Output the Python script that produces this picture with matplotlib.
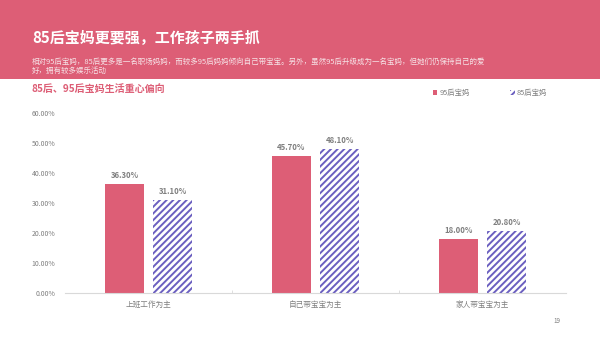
import matplotlib
matplotlib.use('Agg')
import matplotlib.pyplot as plt
from matplotlib.patches import Rectangle, Patch
import numpy as np

plt.rcParams['font.family'] = ['Noto Sans CJK SC', 'DejaVu Sans']
plt.rcParams['hatch.linewidth'] = 1.4

# data
categories = ['上班工作为主', '自己带宝宝为主', '家人带宝宝为主']
series_names = ['95后宝妈', '85后宝妈']
values_95 = [36.3, 45.7, 18.0]
values_85 = [31.1, 48.1, 20.8]
y_ticks = [0, 10, 20, 30, 40, 50, 60]

pink = '#dd5e76'
purple = '#6b5fc0'
gray = '#7f7f7f'
plt.rcParams['hatch.color'] = purple

fig = plt.figure(figsize=(6, 3.37), dpi=100)

# header band
fig.patches.append(Rectangle((0, 1 - 79 / 337), 1, 79 / 337, transform=fig.transFigure,
                             facecolor=pink, edgecolor='none', zorder=0))
fig.text(32 / 600, 1 - 38 / 337, '85后宝妈更要强，工作孩子两手抓', color='white',
         fontsize=10.8, fontweight='bold', va='center', ha='left')
fig.text(32 / 600, 1 - 62 / 337,
         '相对95后宝妈，85后更多是一名职场妈妈，而较多95后妈妈倾向自己带宝宝。另外，虽然95后升级成为一名宝妈，但她们仍保持自己的爱',
         color='#f6e3e7', fontsize=5.4, va='center', ha='left')
fig.text(32 / 600, 1 - 71 / 337, '好，拥有较多娱乐活动',
         color='#f6e3e7', fontsize=5.4, va='center', ha='left')
fig.text(32 / 600, 1 - 89 / 337, '85后、95后宝妈生活重心偏向', color=pink,
         fontsize=7.2, fontweight='bold', va='center', ha='left')
fig.text(557 / 600, 1 - 321 / 337, '19', color=gray, fontsize=4.5, va='center', ha='center')

ax = fig.add_axes([65 / 600, 44 / 337, 501 / 600, 180 / 337])
x = np.arange(len(categories))
w = 0.23
off = 0.144
b1 = ax.bar(x - off, values_95, w, color=pink, label=series_names[0], zorder=2)
b2 = ax.bar(x + off, values_85, w, facecolor='white', edgecolor=purple, hatch='/////',
            linewidth=0, label=series_names[1], zorder=2)

for bars, vals in ((b1, values_95), (b2, values_85)):
    for r, v in zip(bars, vals):
        ax.text(r.get_x() + r.get_width() / 2, v + 1.3, f'{v:.2f}%', ha='center', va='bottom',
                fontsize=5.6, color=gray, fontweight='bold')

ax.set_xlim(-0.5, len(categories) - 0.5)
ax.set_ylim(0, 60)
ax.set_yticks(y_ticks)
ax.set_yticklabels([f'{t:.2f}%' for t in y_ticks])
ax.set_xticks(x)
ax.set_xticklabels(categories)
ax.set_xticks([0.5, 1.5], minor=True)
ax.tick_params(axis='x', which='major', length=0, labelsize=5.5, labelcolor=gray, pad=6)
ax.tick_params(axis='x', which='minor', length=2.5, color='#d9d9d9', direction='in')
ax.tick_params(axis='y', length=0, labelsize=5, labelcolor=gray, pad=7)
for s in ('top', 'right', 'left'):
    ax.spines[s].set_visible(False)
ax.spines['bottom'].set_color('#d9d9d9')
ax.spines['bottom'].set_linewidth(0.8)

handles = [Patch(facecolor=pink, edgecolor='none'),
           Patch(facecolor='white', edgecolor=purple, hatch='/////', linewidth=0)]
fig.legend(handles, series_names, loc='center left', bbox_to_anchor=(426 / 600, 1 - 93 / 337),
           ncol=2, frameon=False, fontsize=5.3, labelcolor=gray, handlelength=0.6,
           handleheight=0.6, handletextpad=0.3, columnspacing=5.5)

fig.savefig('out.png', dpi=100)
